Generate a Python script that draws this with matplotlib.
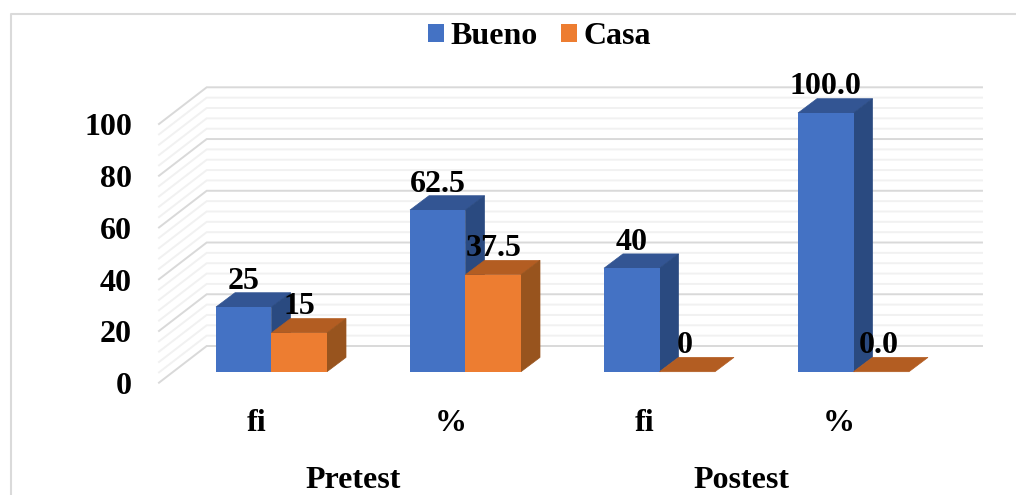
import matplotlib
matplotlib.use("Agg")
import matplotlib.pyplot as plt
from matplotlib.patches import Polygon, Patch
from matplotlib.transforms import ScaledTranslation

categories = ["fi", "%", "fi", "%"]
groups = ["Pretest", "Postest"]
group_pos = [0.5, 2.5]
bueno = [25, 62.5, 40, 100.0]
casa = [15, 37.5, 0, 0.0]
bueno_labels = ["25", "62.5", "40", "100.0"]
casa_labels = ["15", "37.5", "0", "0.0"]
y_ticks = [0, 20, 40, 60, 80, 100]
grid_levels = list(range(0, 101, 4))

W, H = 1016, 495
DPI = 100
PX_X = 194.0      # pixels per category
PX_Y = 2.587      # pixels per value unit
X0 = 271.5        # pixel of category 0
Y0 = 371.7        # pixel of value 0
FS = 23
FONT = "Liberation Serif"

C = {"b": "#4472C4", "b_top": "#335593", "b_side": "#2A4A80",
     "o": "#ED7D31", "o_top": "#B35D22", "o_side": "#98541E"}

fig = plt.figure(figsize=(W / DPI, H / DPI), dpi=DPI, facecolor="white")
ax = fig.add_axes([0, 0, 1, 1])
ax.set_xlim(-X0 / PX_X, (W - X0) / PX_X)
ax.set_ylim((Y0 - H) / PX_Y, Y0 / PX_Y)
ax.patch.set_visible(False)
for s in ax.spines.values():
    s.set_visible(False)


def px(v):
    return (v - X0) / PX_X


# walls
back_dy = (Y0 - 346.0) / PX_Y
front_dy = (382.7 - Y0) / PX_Y
for lv in grid_levels:
    major = lv % 20 == 0
    col = "#D9D9D9" if major else "#F1F1F1"
    ax.plot([px(159), px(206.7), px(982)],
            [lv - front_dy, lv + back_dy, lv + back_dy],
            color=col, lw=1.4, zorder=1, solid_joinstyle="miter")

# bars
bw = 55.5 / PX_X
ddx = 19.0 / PX_X
ddy = 14.3 / PX_Y


def bar3d(x, v, front, top, side, z):
    ax.add_patch(Polygon([(x, v), (x + bw, v), (x + bw + ddx, v + ddy), (x + ddx, v + ddy)],
                         closed=True, facecolor=top, edgecolor=top, lw=0.5, zorder=z))
    if v > 0:
        ax.add_patch(Polygon([(x + bw, 0), (x + bw, v), (x + bw + ddx, v + ddy), (x + bw + ddx, ddy)],
                             closed=True, facecolor=side, edgecolor=side, lw=0.5, zorder=z))
    ax.bar(x, v, bw, align="edge", color=front, zorder=z + 0.001, linewidth=0)


for i in range(len(categories)):
    bar3d(i - bw, bueno[i], C["b"], C["b_top"], C["b_side"], 2 + i * 0.01)
    bar3d(i, casa[i], C["o"], C["o_top"], C["o_side"], 3 + i * 0.01)

# value labels
lab_off = 26.0
kw = dict(family=FONT, fontweight="bold", fontsize=FS, color="black",
          ha="center", va="center", zorder=10)
for i in range(len(categories)):
    ax.annotate(bueno_labels[i], (i - bw / 2, bueno[i]), xytext=(0, lab_off * 72 / DPI),
                textcoords="offset points", **kw)
    ax.annotate(casa_labels[i], (i + bw / 2, casa[i]),
                xytext=(-2 * 72 / DPI if casa[i] == 0 else 0, lab_off * 72 / DPI),
                textcoords="offset points", **kw)

# y axis labels, placed on the front edge of the side wall
ax.set_yticks(y_ticks)
ax.set_yticklabels([str(t) for t in y_ticks])
ax.tick_params(axis="y", length=0, pad=-132 * 72 / DPI)
ytrans = ScaledTranslation(0, -11.5 / DPI, fig.dpi_scale_trans)
for lab in ax.get_yticklabels():
    lab.set_fontfamily(FONT)
    lab.set_fontweight("bold")
    lab.set_fontsize(FS)
    lab.set_transform(lab.get_transform() + ytrans)

# x axis labels
ax.set_xticks(range(len(categories)))
ax.set_xticklabels(categories)
ax.tick_params(axis="x", length=0, pad=-86 * 72 / DPI)
xtrans = ScaledTranslation(-15.0 / DPI, 0, fig.dpi_scale_trans)
for lab in ax.get_xticklabels():
    lab.set_fontfamily(FONT)
    lab.set_fontweight("bold")
    lab.set_fontsize(FS)
    lab.set_transform(lab.get_transform() + xtrans)

# group labels
for g, p in zip(groups, group_pos):
    ax.text(p - 15 / PX_X, (Y0 - 480.0) / PX_Y, g, family=FONT, fontweight="bold",
            fontsize=FS, ha="center", va="center", color="black", zorder=10)

# legend
handles = [Patch(facecolor=C["b"], label="Bueno"), Patch(facecolor=C["o"], label="Casa")]
leg = ax.legend(handles=handles, ncol=2, loc="center", frameon=False,
                bbox_to_anchor=(539.5 / W, 1 - 37 / H), bbox_transform=fig.transFigure,
                prop={"family": FONT, "weight": "bold", "size": FS},
                handlelength=0.5, handleheight=0.5, handletextpad=0.22,
                columnspacing=0.72, borderpad=0, borderaxespad=0)

# chart frame
ax.plot([px(11), px(11), px(1016)],
        [(Y0 - 495) / PX_Y, (Y0 - 14) / PX_Y, (Y0 - 14) / PX_Y],
        color="#DADADA", lw=1.5, zorder=0, clip_on=False)

fig.savefig("out.png", dpi=DPI, facecolor="white")
